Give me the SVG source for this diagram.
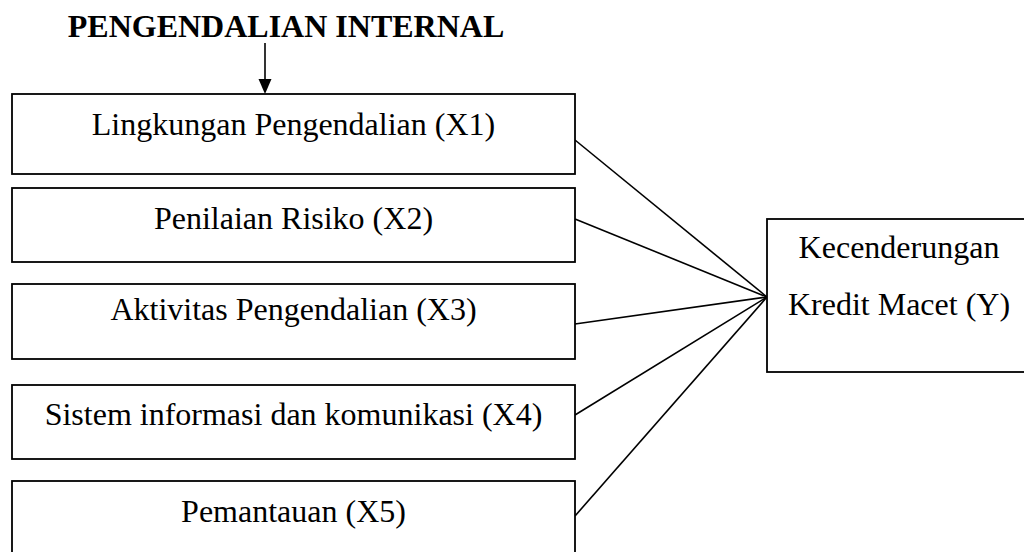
<svg xmlns="http://www.w3.org/2000/svg" width="1024" height="552" viewBox="0 0 1024 552">
<defs>
<style>
.box{fill:#fff;stroke:#000;stroke-width:1.8}
.t{font-family:"Liberation Serif","Times New Roman",serif;font-size:32px;fill:#000;text-anchor:middle}
.title{font-family:"Liberation Serif","Times New Roman",serif;font-size:32px;font-weight:bold;fill:#000;text-anchor:middle}
.c{stroke:#000;stroke-width:1.6;fill:none}
</style>
</defs>
<rect width="1024" height="552" fill="#fff"/>
<g id="title">
<text class="title" x="286" y="37">PENGENDALIAN INTERNAL</text>
</g>
<g id="connectors">
<line class="c" x1="265" y1="43" x2="265" y2="80"/>
<path d="M258.5,79 L271.5,79 L265,94 Z" fill="#000"/>
<line class="c" x1="575" y1="140" x2="767" y2="297"/>
<line class="c" x1="575" y1="219" x2="767" y2="297"/>
<line class="c" x1="575" y1="324" x2="767" y2="297"/>
<line class="c" x1="575" y1="415" x2="767" y2="297"/>
<line class="c" x1="575" y1="516" x2="767" y2="297"/>
</g>
<g id="x1">
<rect class="box" x="12" y="94" width="563" height="80"/>
<text class="t" x="293.5" y="135">Lingkungan Pengendalian (X1)</text>
</g>
<g id="x2">
<rect class="box" x="12" y="188" width="563" height="74"/>
<text class="t" x="293.5" y="229">Penilaian Risiko (X2)</text>
</g>
<g id="x3">
<rect class="box" x="12" y="284" width="563" height="75"/>
<text class="t" x="293.5" y="320">Aktivitas Pengendalian (X3)</text>
</g>
<g id="x4">
<rect class="box" x="12" y="385" width="563" height="74"/>
<text class="t" x="293.5" y="425">Sistem informasi dan komunikasi (X4)</text>
</g>
<g id="x5">
<rect class="box" x="12" y="481" width="563" height="80"/>
<text class="t" x="293.5" y="522">Pemantauan (X5)</text>
</g>
<g id="y">
<rect class="box" x="767" y="219" width="270" height="153"/>
<text class="t" x="899" y="258">Kecenderungan</text>
<text class="t" x="899" y="315">Kredit Macet (Y)</text>
</g>
</svg>
